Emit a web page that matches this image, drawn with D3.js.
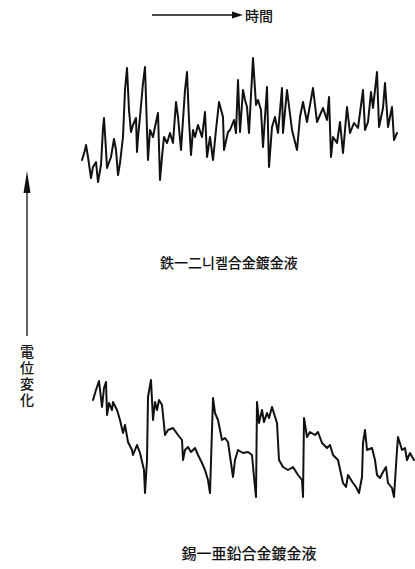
<!DOCTYPE html>
<html>
<head>
<meta charset="utf-8">
<script src="https://cdn.jsdelivr.net/npm/d3@7"></script>
<style>
  html, body { margin: 0; padding: 0; background: #fff; }
  svg { display: block; }
  text { font-family: "Noto Sans CJK JP", "Noto Sans CJK KR", sans-serif; fill: #111; font-weight: 500; }
</style>
</head>
<body>
<svg id="chart" width="415" height="569"></svg>
<script>
// Potential trace of the Fe–Ni alloy plating bath (time, potential in arbitrary units)
const feNiTime = [2,5,6,8,11,13,16,18,21,23,24,26,27,31,34,36,38,40,43,45,47,49,51,53,56,57,58,60,63,65,67,68,70,73,75,78,80,82,84,87,90,93,96,98,101,105,107,109,111,113,115,118,122,125,127,130,133,136,139,143,144,148,150,154,156,158,160,163,165,167,169,173,176,178,181,183,187,189,192,195,198,202,203,207,212,217,220,223,227,233,237,243,247,249,251,253,257,260,263,267,270,274,278,283,285,288,291,293,297,299,303,305,308,312,314,317];
const feNiPotential = [30,40,45,33,12,23,28,8,25,62,72,40,22,33,51,40,15,27,53,100,122,80,58,65,72,38,53,73,107,123,60,30,60,53,63,77,10,33,53,47,57,47,88,73,40,100,118,70,35,60,53,65,53,78,33,53,30,60,88,73,40,58,60,70,57,110,58,100,90,83,57,132,85,90,80,43,103,23,63,73,57,102,57,100,60,40,73,88,68,102,68,82,70,93,33,53,47,68,37,83,57,67,62,100,60,68,98,82,118,63,82,107,63,83,50,57];

// Potential trace of the Sn–Zn alloy plating bath
const snZnTime = [1,4,7,10,12,14,15,17,20,21,25,28,31,33,36,40,41,45,48,52,53,55,56,59,61,63,65,67,70,73,76,81,86,90,91,93,96,99,103,106,110,113,116,118,120,121,123,126,130,133,136,141,143,146,151,156,160,162,164,165,167,170,172,175,177,180,185,187,191,196,201,206,210,211,212,215,218,223,226,230,235,238,241,246,251,254,256,261,264,267,270,271,273,275,280,283,285,288,291,294,296,300,302,305,306,310,313,315,318,322];
const snZnPotential = [100,110,119,93,112,118,85,97,90,98,90,80,67,75,58,50,45,55,47,30,7,40,103,120,80,98,90,100,95,65,70,72,65,60,40,50,53,48,52,45,37,30,20,7,70,102,87,80,60,62,58,23,40,50,47,48,45,23,3,98,77,90,78,87,82,93,77,40,33,30,33,25,20,3,82,63,68,65,68,57,52,55,45,40,17,13,25,17,13,7,23,57,70,50,52,40,25,22,28,33,17,12,3,50,63,50,52,40,47,40];

const axisLabelTime = "時間";
const axisLabelPotential = "電位変化";
const panelTitles = ["鉄一二니켈合金鍍金液", "錫一亜鉛合金鍍金液"];

const svg = d3.select("#chart");

// time arrow
svg.append("line")
  .attr("x1", 152).attr("y1", 15).attr("x2", 234).attr("y2", 15)
  .attr("stroke", "#111").attr("stroke-width", 1.3);
svg.append("path")
  .attr("d", d3.line()([[232, 11.5], [243, 15], [232, 18.5]]) + "Z")
  .attr("fill", "#111");
svg.append("text")
  .attr("x", 245).attr("y", 21)
  .attr("font-size", 14)
  .text(axisLabelTime);

// potential arrow
svg.append("line")
  .attr("x1", 27).attr("y1", 336).attr("x2", 27).attr("y2", 185)
  .attr("stroke", "#111").attr("stroke-width", 1.3);
svg.append("path")
  .attr("d", d3.line()([[23.5, 193], [27, 171], [30.5, 193]]) + "Z")
  .attr("fill", "#111");
svg.append("text")
  .attr("x", 27).attr("y", 345)
  .attr("writing-mode", "tb")
  .attr("glyph-orientation-vertical", 0)
  .attr("letter-spacing", 2)
  .attr("font-size", 14)
  .text(axisLabelPotential);

// traces
const panels = [
  { time: feNiTime, pot: feNiPotential, xDom: [0, 320], xRng: [80, 400], yDom: [0, 130], yRng: [190, 60] },
  { time: snZnTime, pot: snZnPotential, xDom: [0, 322], xRng: [92, 414], yDom: [0, 125], yRng: [500, 375] }
];

panels.forEach(p => {
  const x = d3.scaleLinear().domain(p.xDom).range(p.xRng);
  const y = d3.scaleLinear().domain(p.yDom).range(p.yRng);
  const pts = p.time.map((t, i) => [t, p.pot[i]]);
  const line = d3.line().x(d => x(d[0])).y(d => y(d[1]));
  svg.append("path")
    .datum(pts)
    .attr("d", line)
    .attr("fill", "none")
    .attr("stroke", "#111")
    .attr("stroke-width", 2)
    .attr("stroke-linejoin", "round")
    .attr("stroke-linecap", "round");
});

// panel titles
svg.append("text")
  .attr("x", 229).attr("y", 268)
  .attr("text-anchor", "middle")
  .attr("font-size", 14)
  .text(panelTitles[0]);
svg.append("text")
  .attr("x", 249).attr("y", 559)
  .attr("text-anchor", "middle")
  .attr("font-size", 15)
  .text(panelTitles[1]);
</script>
</body>
</html>
